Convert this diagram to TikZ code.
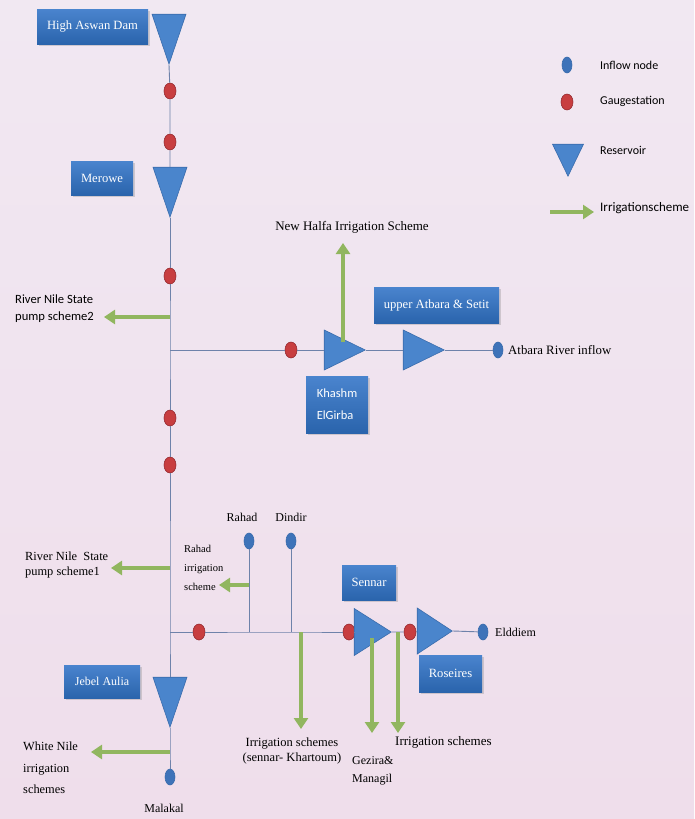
\documentclass[tikz,border=0pt]{standalone}
\usepackage{fontspec}
\setmainfont{Liberation Serif}
\newfontfamily\calfont{Carlito}
\usetikzlibrary{shapes.geometric,arrows.meta,shadows}
\definecolor{bgtop}{RGB}{241,232,242}
\definecolor{bgbot}{RGB}{239,222,235}
\definecolor{resblue}{RGB}{74,133,204}
\definecolor{resedge}{RGB}{58,108,172}
\definecolor{gaugered}{RGB}{200,62,64}
\definecolor{gaugeedge}{RGB}{150,42,48}
\definecolor{inblue}{RGB}{62,115,185}
\definecolor{boxtop}{RGB}{74,132,206}
\definecolor{boxbot}{RGB}{42,100,172}
\definecolor{irrgreen}{RGB}{145,182,95}
\definecolor{riverline}{RGB}{110,130,170}
\tikzset{
  reservoir/.style={isosceles triangle, isosceles triangle stretches, inner sep=0pt,
    fill=resblue, draw=resedge, line width=0.6pt},
  resdown/.style={reservoir, shape border rotate=-90, minimum width=34pt, minimum height=50pt},
  resright/.style={reservoir, minimum width=40pt, minimum height=41pt},
  gauge/.style={ellipse, minimum width=12pt, minimum height=16pt, inner sep=0pt,
    fill=gaugered, draw=gaugeedge, line width=0.6pt},
  inflow/.style={ellipse, minimum width=10pt, minimum height=16pt, inner sep=0pt,
    fill=inblue, draw=resedge, line width=0.6pt},
  namebox/.style={top color=boxtop, bottom color=boxbot, text=white, inner sep=0pt,
    font=\fontsize{12.6}{14}\selectfont,
    drop shadow={opacity=0.3, shadow xshift=1.5pt, shadow yshift=-1.5pt}},
  lbl/.style={inner sep=0pt, font=\fontsize{12}{14}\selectfont},
  keytext/.style={inner sep=0pt, anchor=west, font=\calfont\fontsize{12}{14}\selectfont},
  river/.style={draw=riverline, line width=0.9pt},
  irr/.style={draw=irrgreen, line width=4.5pt, -{Triangle[width=14pt,length=11pt]}}
}
\begin{document}
\begin{tikzpicture}[x=1pt,y=-1pt]
  \useasboundingbox (0,0) rectangle (694,819);
  \shade[top color=bgtop, bottom color=bgbot] (0,0) rectangle (694,819);

  % main Nile
  \node[resdown, anchor=apex] (aswan) at (169,65) {};
  \node[gauge] (g1) at (170,91) {};
  \node[gauge] (g2) at (170,142) {};
  \node[resdown, anchor=apex] (merowe) at (170,218) {};
  \node[gauge] (g3) at (170,276) {};
  \coordinate (jpump2) at (170,317);
  \coordinate (jatb) at (170,350);
  \node[gauge] (g4) at (170,418) {};
  \node[gauge] (g5) at (170,465) {};
  \coordinate (jpump1) at (170,568);
  \coordinate (jblue) at (170,632);
  \node[resdown, anchor=apex] (jebel) at (170,728) {};
  \coordinate (jwhite) at (170,752);
  \node[inflow] (malakal) at (170,777) {};

  % Atbara
  \node[gauge] (g6) at (291,350) {};
  \node[resright, anchor=apex] (khashm) at (366,350) {};
  \node[resright, anchor=apex] (upperatb) at (445,350) {};
  \node[inflow] (atbara) at (498,350) {};

  % Blue Nile
  \node[gauge] (g7) at (199,632) {};
  \node[inflow] (rahad) at (249,541) {};
  \node[inflow] (dindir) at (291,541) {};
  \coordinate (jrahad) at (249,632);
  \coordinate (jdindir) at (291,632);
  \coordinate (jsk) at (301,632);
  \node[gauge] (g8) at (349,632) {};
  \node[resright, anchor=apex, minimum width=47pt, minimum height=37pt] (sennar) at (392,632) {};
  \coordinate (jirr) at (398,632);
  \node[gauge] (g9) at (410,632) {};
  \node[resright, anchor=apex, minimum width=46pt, minimum height=35pt] (roseires) at (453,631) {};
  \node[inflow] (elddiem) at (483,632) {};

  \draw[river] (aswan.apex) -- (g1) -- (g2) -- (merowe);
  \draw[river] (merowe.apex) -- (g3) -- (jpump2) -- (jatb) -- (g4) -- (g5) -- (jpump1) -- (jblue) -- (jebel);
  \draw[river] (jebel.apex) -- (jwhite) -- (malakal);
  \draw[river] (jatb) -- (g6) -- (khashm);
  \draw[river] (khashm.apex) -- (upperatb);
  \draw[river] (upperatb.apex) -- (atbara);
  \draw[river] (jblue) -- (g7) -- (jrahad) -- (jdindir) -- (jsk) -- (g8) -- (sennar);
  \draw[river] (sennar.apex) -- (jirr) -- (g9) -- (roseires);
  \draw[river] (roseires.apex) -- (elddiem);
  \draw[river] (rahad) -- (jrahad);
  \draw[river] (dindir) -- (jdindir);

  % irrigation
  \coordinate (jhalfa) at (343,342);
  \coordinate (thalfa) at (343,243);
  \coordinate (tpump2) at (104,317);
  \coordinate (tpump1) at (111,568);
  \coordinate (jrirr) at (249,585);
  \coordinate (trirr) at (219,585);
  \coordinate (tsk) at (301,729);
  \coordinate (jgez) at (372,638);
  \coordinate (tgez) at (372,733);
  \coordinate (tirr) at (398,733);
  \coordinate (twhite) at (91,752);
  \draw[irr] (jhalfa) -- (thalfa);
  \draw[irr] (jpump2) -- (tpump2);
  \draw[irr] (jpump1) -- (tpump1);
  \draw[irr] (jrirr) -- (trirr);
  \draw[irr] (jsk) -- (tsk);
  \draw[irr] (jgez) -- (tgez);
  \draw[irr] (jirr) -- (tirr);
  \draw[irr] (jwhite) -- (twhite);

  % names
  \node[namebox, minimum width=111pt, minimum height=35pt] (aswanlbl) at (92.5,26.5) {High Aswan Dam};
  \node[namebox, minimum width=62pt, minimum height=34pt] (merowelbl) at (102,178) {Merowe};
  \node[namebox, minimum width=125pt, minimum height=36pt] (upperlbl) at (436.5,305) {upper Atbara \& Setit};
  \node[namebox, minimum width=62pt, minimum height=57pt, align=left,
    font=\calfont\fontsize{12.5}{22}\selectfont] (khashmlbl) at (337,404.5) {Khashm\\ElGirba};
  \node[namebox, minimum width=54pt, minimum height=35pt] (sennarlbl) at (369,582.5) {Sennar};
  \node[namebox, minimum width=63pt, minimum height=37pt] (roseireslbl) at (450.5,673.5) {Roseires};
  \node[namebox, minimum width=76pt, minimum height=33pt, font=\fontsize{12}{14}\selectfont] (jebellbl) at (102,681.5) {Jebel Aulia};

  \node[lbl, font=\fontsize{13}{15}\selectfont] (newhalfa) at (352,227) {New Halfa Irrigation Scheme};
  \node[lbl, anchor=west, font=\fontsize{12.8}{15}\selectfont] (atbaratxt) at (508,350) {Atbara River inflow};
  \node[lbl, anchor=west, align=left, font=\calfont\fontsize{12.6}{17}\selectfont] (pump2) at (15,308.5) {River Nile State\\pump scheme2};
  \node[lbl, anchor=west, align=left, font=\fontsize{12.4}{15.5}\selectfont] (pump1) at (25,565) {River Nile\ \ State\\pump scheme1};
  \node[lbl] (rahadtxt) at (242,517) {Rahad};
  \node[lbl] (dindirtxt) at (291,517) {Dindir};
  \node[lbl, anchor=west, align=left, font=\fontsize{10.5}{19}\selectfont] (rahadirr) at (184,567.5) {Rahad\\irrigation\\scheme};
  \node[lbl, align=center, font=\fontsize{12.5}{15}\selectfont] (sktxt) at (292,750.5) {Irrigation schemes\\(sennar- Khartoum)};
  \node[lbl, anchor=west, align=left, font=\fontsize{12}{18}\selectfont] (geztxt) at (352,771) {Gezira\&\\Managil};
  \node[lbl, anchor=west, font=\fontsize{13}{15}\selectfont] (irrtxt) at (395,742) {Irrigation schemes};
  \node[lbl, anchor=west] (elddiemtxt) at (495,632) {Elddiem};
  \node[lbl, anchor=west, align=left, font=\fontsize{12.4}{21.5}\selectfont] (whitetxt) at (23,768) {White Nile\\irrigation\\schemes};
  \node[lbl] (malakaltxt) at (164,808) {Malakal};

  % key
  \node[inflow] (keyinflow) at (567,65) {};
  \node[gauge] (keygauge) at (567,102) {};
  \node[resdown, anchor=apex, minimum width=31pt, minimum height=32pt] (keyres) at (568,177) {};
  \coordinate (keyirr1) at (550,212);
  \coordinate (keyirr2) at (594,212);
  \draw[irr] (keyirr1) -- (keyirr2);
  \node[keytext] (keyinflowtxt) at (600,65) {Inflow node};
  \node[keytext] (keygaugetxt) at (600,101) {Gaugestation};
  \node[keytext] (keyrestxt) at (600,150) {Reservoir};
  \node[keytext, font=\calfont\fontsize{13}{15}\selectfont] (keyirrtxt) at (600,208) {Irrigationscheme};
\end{tikzpicture}
\end{document}
